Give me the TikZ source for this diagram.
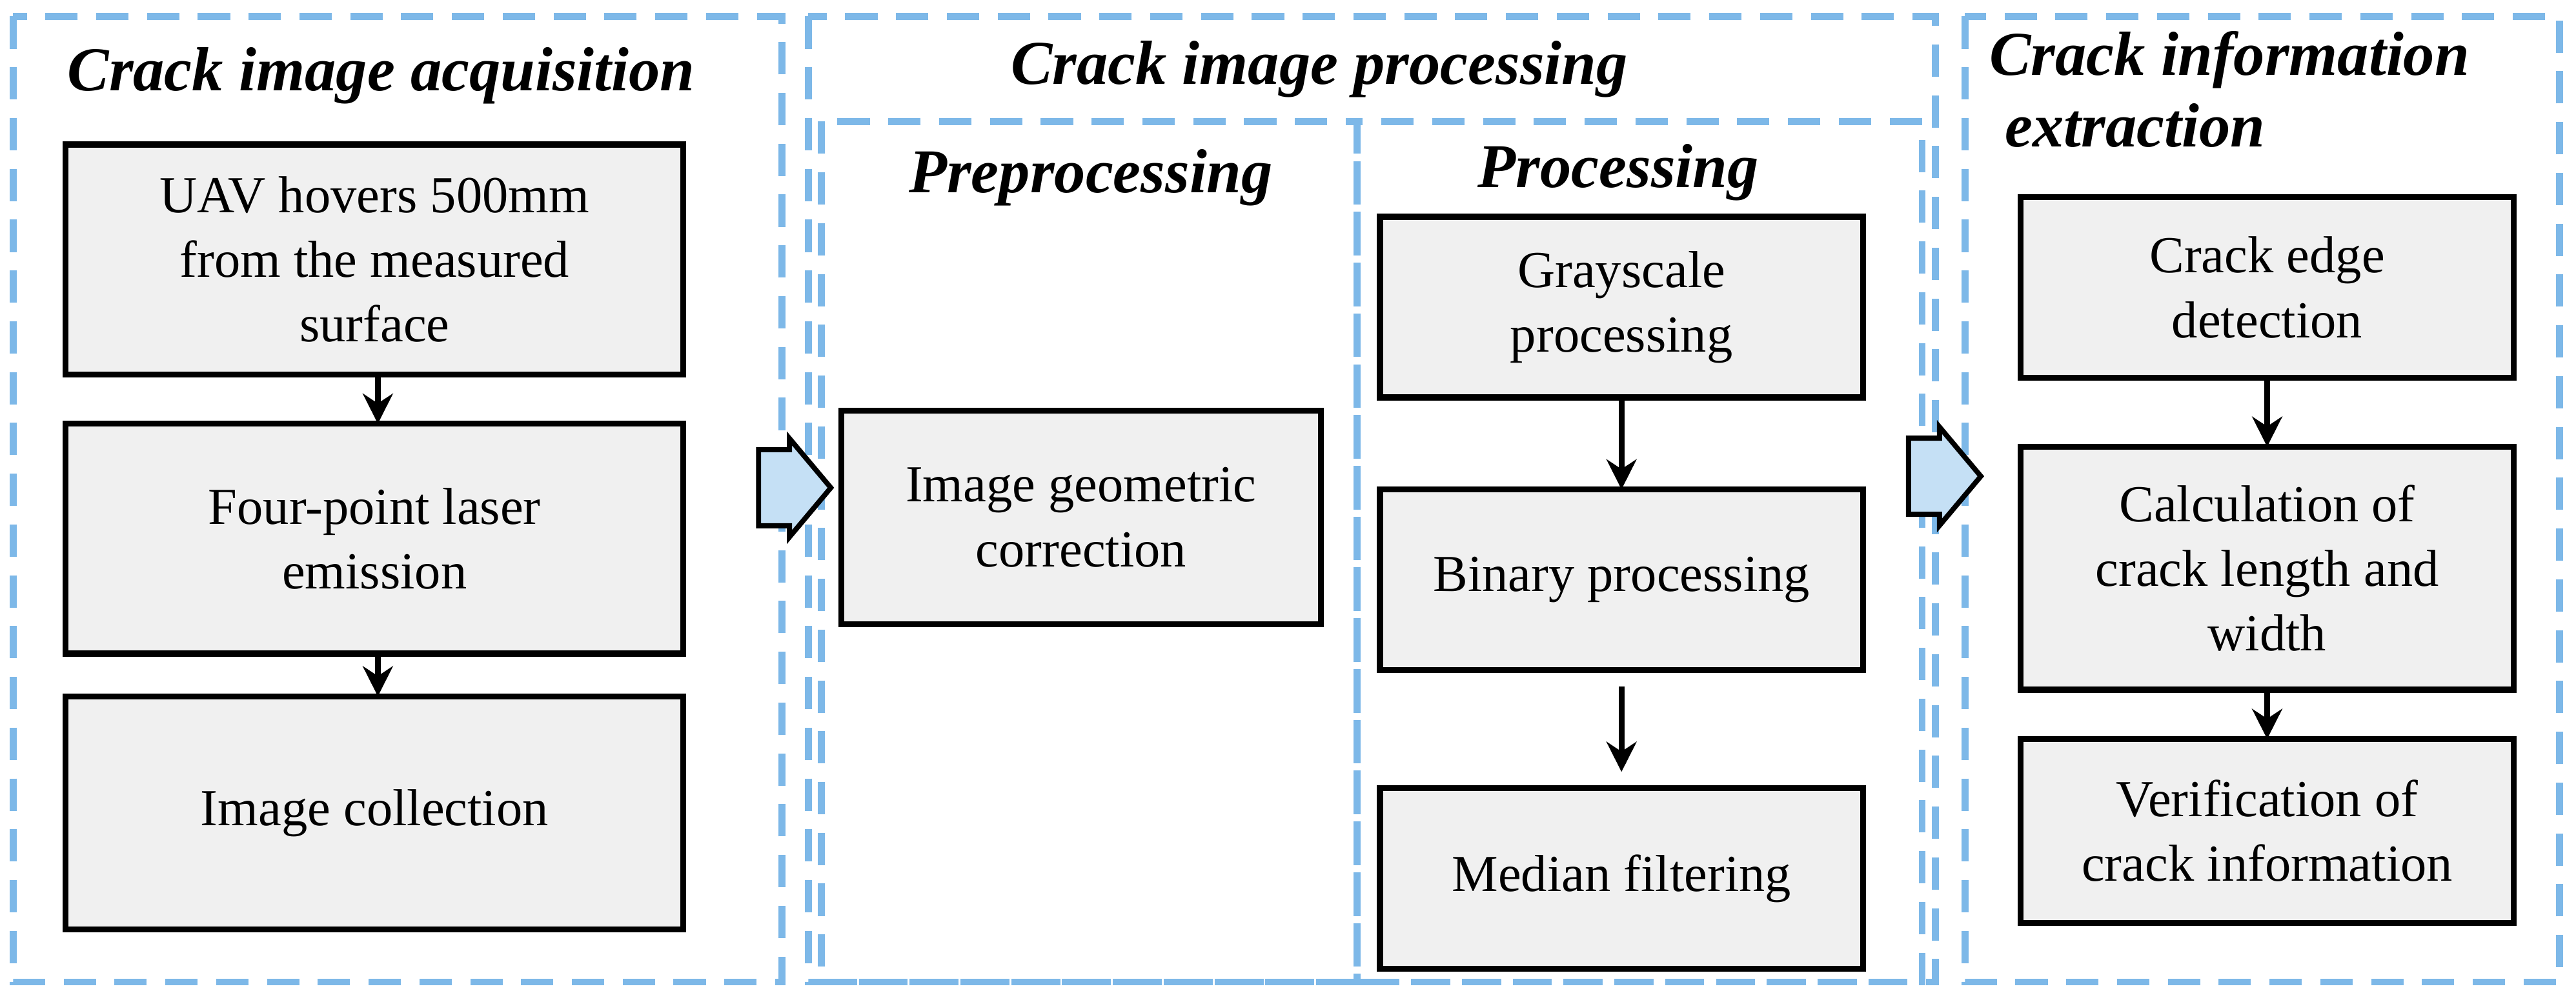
\documentclass[tikz,border=0pt]{standalone}
\usepackage{fontspec}
\setmainfont{Liberation Serif}
\usetikzlibrary{shapes.arrows,arrows.meta}
\definecolor{dash}{HTML}{7DB8E8}
\definecolor{boxfill}{HTML}{F0F0F0}
\definecolor{arrfill}{HTML}{C5E0F5}
\begin{document}
\begin{tikzpicture}[x=0.025cm,y=-0.025cm,
 grp/.style={draw=dash,line width=3pt,dash pattern=on 14pt off 8pt},
 blk/.style={draw=black,line width=2.6pt,fill=boxfill,align=center,font=\fontsize{22.5}{28}\selectfont},
 ttl/.style={font=\fontsize{27}{31}\selectfont\bfseries\itshape,align=left},
 arr/.style={-{Stealth[length=13pt,width=13pt]},line width=2.6pt},
 bigarr/.style={single arrow,draw=black,line width=2.2pt,fill=arrfill,minimum height=1.1cm,minimum width=1.5cm,single arrow head extend=0.1cm,single arrow tip angle=100,inner sep=0pt,inner ysep=0.3cm}]
\useasboundingbox (0,0) rectangle (1568,610);
\draw[grp] (8,10) rectangle (476,598);
\draw[grp] (492,10) rectangle (1178,598);
\draw[grp] (500,74) rectangle (826,598);
\draw[grp] (826,74) rectangle (1170,598);
\draw[grp] (1196,10) rectangle (1558,598);
\node[ttl] (t1) at (232,46) {Crack image acquisition};
\node[ttl] (t2) at (803,42) {Crack image processing};
\node[ttl] (t3) at (664,108) {Preprocessing};
\node[ttl] (t4) at (985,105) {Processing};
\node[ttl,anchor=north west] (t5) at (1206,14) {Crack information\\\ extraction};
\path[blk] (40,88) rectangle (416,228) node[midway,draw=none] (a1) {UAV hovers 500mm\\from the measured\\surface};
\path[blk] (40,258) rectangle (416,398) node[midway,draw=none] (a2) {Four-point laser\\emission};
\path[blk] (40,424) rectangle (416,566) node[midway,draw=none] (a3) {Image collection};
\path[blk] (512,250) rectangle (804,380) node[midway,draw=none] (b1) {Image geometric\\correction};
\path[blk] (840,132) rectangle (1134,242) node[midway,draw=none] (c1) {Grayscale\\processing};
\path[blk] (840,298) rectangle (1134,408) node[midway,draw=none] (c2) {Binary processing};
\path[blk] (840,480) rectangle (1134,590) node[midway,draw=none] (c3) {Median filtering};
\path[blk] (1230,120) rectangle (1530,230) node[midway,draw=none] (d1) {Crack edge\\detection};
\path[blk] (1230,272) rectangle (1530,420) node[midway,draw=none] (d2) {Calculation of\\crack length and\\width};
\path[blk] (1230,450) rectangle (1530,562) node[midway,draw=none] (d3) {Verification of\\crack information};
\coordinate (p1) at (230,228); \coordinate (q1) at (230,258);
\coordinate (p2) at (230,398); \coordinate (q2) at (230,424);
\coordinate (p3) at (987,242); \coordinate (q3) at (987,298);
\coordinate (p4) at (987,418); \coordinate (q4) at (987,470);
\coordinate (p5) at (1380,230); \coordinate (q5) at (1380,272);
\coordinate (p6) at (1380,420); \coordinate (q6) at (1380,450);
\foreach \a/\b in {p1/q1,p2/q2,p3/q3,p4/q4,p5/q5,p6/q6} \draw[arr] (\a) -- (\b);
\node[bigarr] (ba1) at (474,297) {};
\node[bigarr] (ba2) at (1174,290) {};
\end{tikzpicture}
\end{document}
